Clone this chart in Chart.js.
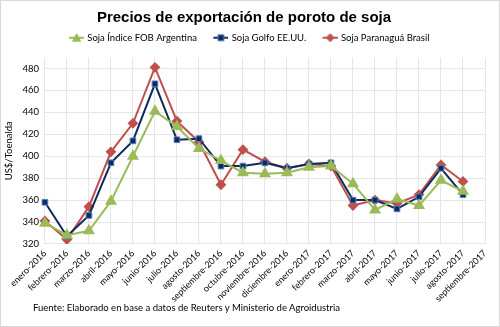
<!DOCTYPE html>
<html>
<head>
<meta charset="utf-8">
<script src="https://cdn.jsdelivr.net/npm/chart.js@4/dist/chart.umd.min.js"></script>
<style>
  body { margin: 0; background: #fff; }
  #box { position: relative; width: 498px; height: 325px; border: 1px solid #d9d9d9; overflow: hidden; }
  #fuente { position: absolute; left: 32px; top: 301px; font: 9.5px Lato, sans-serif; color: #000; white-space: nowrap; }
</style>
</head>
<body>
<div id="box">
  <canvas id="chart" width="498" height="325"></canvas>
  <div id="fuente">Fuente: Elaborado en base a datos de Reuters y Ministerio de Agroidustria</div>
</div>
<script>
// months shown on the axis (last one has no data)
const meses = ['enero-2016', 'febrero-2016', 'marzo-2016', 'abril-2016', 'mayo-2016', 'junio-2016',
  'julio-2016', 'agosto-2016', 'septiembre-2016', 'octubre-2016', 'noviembre-2016', 'diciembre-2016',
  'enero-2017', 'febrero-2017', 'marzo-2017', 'abril-2017', 'mayo-2017', 'junio-2017',
  'julio-2017', 'agosto-2017', 'septiembre-2017']

// US$/tonelada
const fobArgentina = [339, 328, 332, 359, 400, 441, 427, 407, 396, 385, 384, 385,
  390, 391, 375, 351, 361, 355, 378, 368]
const golfoEEUU = [358, 327, 346, 394, 414, 466, 415, 416, 391, 391, 394, 389,
  393, 394, 360, 360, 352, 363, 389, 365]
const paranagua = [341, 324, 354, 404, 430, 481, 432, 413, 374, 406, 395, 389,
  393, 391, 355, 360, 357, 365, 392, 377]

const yTicks = [320, 340, 360, 380, 400, 420, 440, 460, 480]

const green = '#9bbb59'
const navy = '#0f2b5b'
const red = '#c0504d'

// legend swatch: line with the marker in the middle, with empty room on the left
// so the items sit further apart
function swatch(color, style, fill, border) {
  const c = document.createElement('canvas')
  c.width = 27; c.height = 10
  const g = c.getContext('2d')
  g.translate(12, 0)
  g.strokeStyle = color; g.lineWidth = 2
  g.beginPath(); g.moveTo(0, 5); g.lineTo(15, 5); g.stroke()
  g.fillStyle = fill; g.strokeStyle = border; g.lineWidth = 1
  g.beginPath()
  if (style === 'triangle') { g.moveTo(7.5, 1); g.lineTo(11.5, 8.5); g.lineTo(3.5, 8.5); g.closePath() }
  else if (style === 'rect') { g.rect(4.5, 2, 6, 6) }
  else { g.moveTo(7.5, 1); g.lineTo(11.5, 5); g.lineTo(7.5, 9); g.lineTo(3.5, 5); g.closePath() }
  g.fill(); g.stroke()
  return c
}

const swatches = [
  swatch(green, 'triangle', green, green),
  swatch(navy, 'rect', navy, '#4f81bd'),
  swatch(red, 'rectRot', red, red)
]

// extra room under the legend
const legendGap = {
  id: 'legendGap',
  beforeLayout(chart) {
    const lg = chart.legend
    if (lg && !lg._gap) {
      const fit = lg.fit
      lg.fit = function () { fit.call(this); this.height += 5 }
      lg._gap = true
    }
  },
}

const ctx = document.getElementById('chart')
new Chart(ctx, {
  type: 'line',
  data: {
    labels: meses,
    datasets: [
      {
        label: 'Soja Índice FOB Argentina',
        data: fobArgentina,
        borderColor: green,
        backgroundColor: green,
        borderWidth: 2,
        pointStyle: 'triangle',
        pointRadius: 5,
        pointBorderColor: green,
        pointBackgroundColor: green,
        tension: 0,
      },
      {
        label: 'Soja Golfo EE.UU.',
        data: golfoEEUU,
        borderColor: navy,
        backgroundColor: navy,
        borderWidth: 2,
        pointStyle: 'rect',
        pointRadius: 4,
        pointBorderColor: '#4f81bd',
        pointBorderWidth: 1,
        pointBackgroundColor: navy,
        tension: 0,
      },
      {
        label: 'Soja Paranaguá Brasil',
        data: paranagua,
        borderColor: red,
        backgroundColor: red,
        borderWidth: 2,
        pointStyle: 'rectRot',
        pointRadius: 4,
        pointBorderColor: red,
        pointBackgroundColor: red,
        tension: 0,
      },
    ],
  },
  plugins: [legendGap],
  options: {
    responsive: false,
    animation: false,
    layout: { padding: { left: 2, right: 14, top: 5, bottom: 18 } },
    plugins: {
      title: {
        display: true,
        text: 'Precios de exportación de poroto de soja',
        color: '#000',
        font: { family: 'Liberation Sans', size: 15, weight: 'bold' },
        padding: { top: 3, bottom: 0 },
      },
      legend: {
        labels: {
          color: '#000',
          font: { family: 'Lato', size: 9.5 },
          usePointStyle: true,
          pointStyleWidth: 24,
          boxHeight: 10,
          padding: 6,
          generateLabels(chart) {
            return chart.data.datasets.map((ds, i) => ({
              text: ds.label,
              pointStyle: swatches[i],
              datasetIndex: i,
              fontColor: '#000',
              lineWidth: 0,
              strokeStyle: 'transparent',
              fillStyle: 'transparent',
            }))
          },
        },
      },
      tooltip: { enabled: false },
    },
    scales: {
      x: {
        offset: false,
        grid: { color: '#e6e6e6', drawTicks: false },
        border: { color: '#e6e6e6' },
        ticks: {
          color: '#000',
          font: { family: 'Lato', size: 9 },
          maxRotation: 45,
          minRotation: 45,
          autoSkip: false,
          padding: 4,
        },
      },
      y: {
        min: 320,
        max: 490,
        afterBuildTicks(scale) {
          scale.ticks = yTicks.map(v => ({ value: v }))
        },
        grid: { color: '#e6e6e6', drawTicks: false },
        border: { display: false },
        ticks: {
          color: '#000',
          font: { family: 'Lato', size: 9.5 },
          padding: 6,
        },
        title: {
          display: true,
          text: 'US$/Toenalda',
          color: '#000',
          font: { family: 'Lato', size: 9.5 },
          padding: { top: 0, bottom: 2 },
        },
      },
    },
  },
})
</script>
</body>
</html>
